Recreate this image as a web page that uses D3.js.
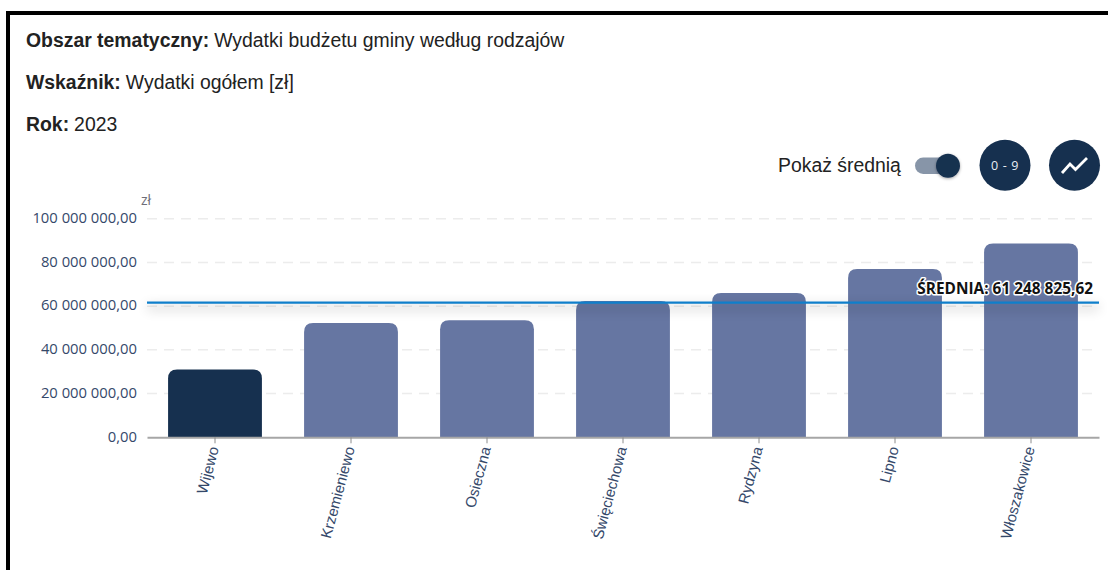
<!DOCTYPE html>
<head>
<meta charset="utf-8">
<style type="text/css">
html, body { margin: 0; padding: 0; background: white; overflow: hidden; }
svg { display: block; }
.head { font-family: "Liberation Sans", Arial, sans-serif; font-size: 19.4px; fill: #222; }
.head .b { font-weight: bold; }
.y-axis text { font-family: "Open Sans", sans-serif; font-size: 14.8px; fill: #34486a; }
.x-axis text { font-family: "Liberation Sans", Arial, sans-serif; font-size: 15px; fill: #34486a; }
</style>
</head>
<body>
<script src="https://cdn.jsdelivr.net/npm/d3@7"></script>
<script type="text/javascript">
  var categories = ['Wijewo', 'Krzemieniewo', 'Osieczna', 'Święciechowa', 'Rydzyna', 'Lipno', 'Włoszakowice'];
  var values = [31000000, 52300000, 53500000, 62400000, 66000000, 77000000, 88700000];
  var yTicks = [0, 20000000, 40000000, 60000000, 80000000, 100000000];
  var average = 61248825.62;
  var selected = 'Wijewo';
  var headLines = [
    ['Obszar tematyczny:', 'Wydatki budżetu gminy według rodzajów'],
    ['Wskaźnik:', 'Wydatki ogółem [zł]'],
    ['Rok:', '2023']
  ];

  var navy = '#16304f', barColor = '#6676a2';
  var headY = [46.5, 89, 130.5];

  var svg = d3.select('body').append('svg')
          .attr('width', 1108)
          .attr('height', 570);

  // blur for the shadow under the average line
  var defs = svg.append('defs');
  defs.append('filter').attr('id', 'soft')
          .attr('x', '-5%').attr('y', '-1000%').attr('width', '110%').attr('height', '2100%')
          .append('feGaussianBlur').attr('stdDeviation', 6);
  defs.append('filter').attr('id', 'knob')
          .attr('x', '-50%').attr('y', '-50%').attr('width', '200%').attr('height', '200%')
          .append('feDropShadow').attr('dx', 0).attr('dy', 1).attr('stdDeviation', 1.5).attr('flood-opacity', 0.35);

  // Black frame, open to the right and the bottom
  svg.append('path')
          .attr('d', 'M8,570 V13 H1108')
          .attr('fill', 'none')
          .attr('stroke', 'black')
          .attr('stroke-width', 4);

  // Header lines
  var head = svg.selectAll('.head').data(headLines).enter()
          .append('text')
          .attr('class', 'head')
          .attr('x', 26)
          .attr('y', function(d, i){ return headY[i]; });
  head.append('tspan').attr('class', 'b').text(function(d){ return d[0]; });
  head.append('tspan').attr('dx', 5).text(function(d){ return d[1]; });

  // Scales
  var x = d3.scaleBand().domain(categories).range([147, 1099]).paddingInner(0.31).paddingOuter(0.155);
  var y = d3.scaleLinear().domain([0, 100000000]).range([437.3, 218.7]);

  function money(v){
    return d3.format(',.2f')(v).replace(/,/g, ' ').replace('.', ',');
  }

  // Dashed grid
  svg.selectAll('.grid').data(yTicks.slice(1)).enter()
          .append('line')
          .attr('class', 'grid')
          .attr('x1', 147)
          .attr('x2', 1099)
          .attr('y1', function(d){ return y(d); })
          .attr('y2', function(d){ return y(d); })
          .attr('stroke', '#ececec')
          .attr('stroke-width', 1.5)
          .attr('stroke-dasharray', '10 7');

  // Bars, only the top corners rounded
  var r = 9;
  svg.selectAll('.bar').data(categories).enter()
          .append('path')
          .attr('class', 'bar')
          .attr('fill', function(d){ return d === selected ? navy : barColor; })
          .attr('d', function(d, i){
            var x0 = x(d), x1 = x0 + x.bandwidth(), top = y(values[i]), base = y(0);
            return 'M' + x0 + ',' + base + 'V' + (top + r) + 'Q' + x0 + ',' + top + ' ' + (x0 + r) + ',' + top +
                   'H' + (x1 - r) + 'Q' + x1 + ',' + top + ' ' + x1 + ',' + (top + r) + 'V' + base + 'Z';
          });

  // Y axis
  var yAxis = svg.append('g')
          .attr('class', 'y-axis')
          .attr('transform', 'translate(147,0)')
          .call(d3.axisLeft(y).tickValues(yTicks).tickFormat(money).tickSize(0).tickPadding(10));
  yAxis.select('.domain').remove();
  yAxis.selectAll('text').attr('dy', '0.26em');

  // Unit
  svg.append('text')
          .attr('x', 141)
          .attr('y', 205)
          .attr('font-family', '"Open Sans", sans-serif')
          .attr('font-size', 14)
          .attr('fill', '#6e6e78')
          .text('zł');

  // X axis
  var xAxis = svg.append('g')
          .attr('class', 'x-axis')
          .attr('transform', 'translate(0,' + y(0) + ')')
          .call(d3.axisBottom(x).tickSize(6).tickSizeOuter(0));
  xAxis.select('.domain').attr('stroke', '#a6a6a6').attr('stroke-width', 2);
  xAxis.selectAll('line').attr('stroke', '#8c8c8c');
  xAxis.selectAll('text')
          .attr('text-anchor', 'end')
          .attr('y', 0)
          .attr('dy', 0)
          .attr('transform', 'translate(4,11) rotate(-75)');

  // Average line with its shadow and label
  svg.append('rect')
          .attr('x', 147)
          .attr('width', 952)
          .attr('y', y(average) + 1)
          .attr('height', 6)
          .attr('fill', '#000')
          .attr('opacity', 0.15)
          .attr('filter', 'url(#soft)');
  svg.append('line')
          .attr('x1', 147)
          .attr('x2', 1099)
          .attr('y1', y(average) - 0.8)
          .attr('y2', y(average) - 0.8)
          .attr('stroke', '#0f7fcb')
          .attr('stroke-width', 2.4);
  svg.append('text')
          .attr('x', 1093)
          .attr('y', y(average) - 9.5)
          .attr('text-anchor', 'end')
          .attr('font-family', '"Open Sans", sans-serif')
          .attr('font-weight', 700)
          .attr('font-size', 15.4)
          .attr('fill', '#111')
          .attr('stroke', 'white')
          .attr('stroke-width', 3)
          .attr('stroke-linejoin', 'round')
          .attr('paint-order', 'stroke')
          .text('ŚREDNIA: ' + money(average));

  // Toggle and the two round buttons
  svg.append('text')
          .attr('x', 778)
          .attr('y', 172)
          .attr('font-family', '"Liberation Sans", Arial, sans-serif')
          .attr('font-size', 19.4)
          .attr('fill', '#222')
          .text('Pokaż średnią');
  svg.append('rect')
          .attr('x', 915).attr('y', 157.5).attr('width', 36).attr('height', 16.5).attr('rx', 8.2)
          .attr('fill', '#8795a8');
  svg.append('circle')
          .attr('cx', 948).attr('cy', 165.7).attr('r', 12)
          .attr('fill', navy)
          .attr('filter', 'url(#knob)');
  svg.append('circle').attr('cx', 1005).attr('cy', 165.3).attr('r', 25.5).attr('fill', navy);
  svg.append('text')
          .attr('x', 1005).attr('y', 170)
          .attr('text-anchor', 'middle')
          .attr('font-family', '"Open Sans", sans-serif')
          .attr('font-size', 12.5)
          .attr('letter-spacing', 0.6)
          .attr('fill', '#e8edf3')
          .text('0 - 9');
  svg.append('circle').attr('cx', 1074.5).attr('cy', 165.3).attr('r', 25.5).attr('fill', navy);
  svg.append('path')
          .attr('d', 'M1062,173 L1070,164 L1075.5,169.5 L1087,158')
          .attr('fill', 'none')
          .attr('stroke', 'white')
          .attr('stroke-width', 2.8);
</script>
</body>
